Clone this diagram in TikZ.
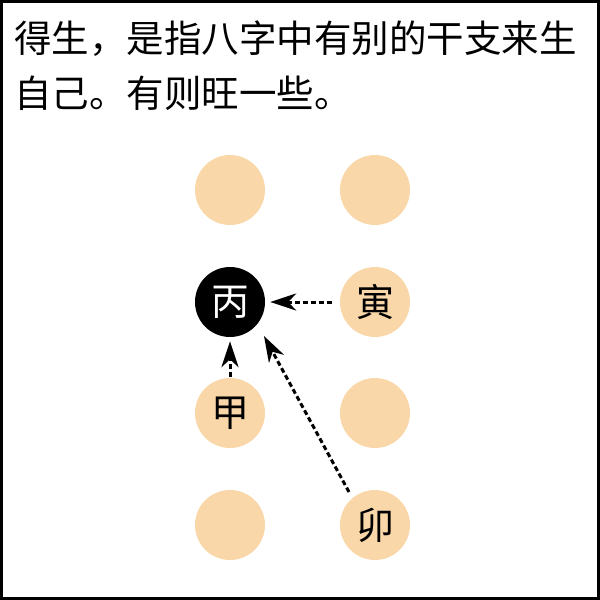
\documentclass[tikz,border=0pt]{standalone}
\usepackage{fontspec}
\setmainfont{Noto Sans CJK SC}
\newfontfamily\cjk{Noto Sans CJK SC}
\usepackage{tikz}
\usetikzlibrary{arrows.meta}
\definecolor{peach}{RGB}{250,215,168}

\begin{document}
\begin{tikzpicture}[x=1pt,y=1pt,
            pillar/.style={circle, fill=peach, minimum size=70pt, inner sep=0pt,
                font=\cjk\fontsize{38}{38}\selectfont},
            dayman/.style={pillar, fill=black, text=white},
            sheng/.style={-{Stealth[length=26pt,width=17pt,inset=8pt]},
                line width=3pt, dash pattern=on 5pt off 3pt}]
            \useasboundingbox (0,0) rectangle (600,-600);
            \draw[line width=3pt] (1.5,-1.5) rectangle (598.5,-598.5);
            % caption
            \node[anchor=base west, inner sep=0pt, font=\fontsize{37.5}{37.5}\selectfont] (line1) at (14,-52) {得生，是指八字中有别的干支来生};
            \node[anchor=base west, inner sep=0pt, font=\fontsize{37.5}{37.5}\selectfont] (line2) at (14,-107) {自己。有则旺一些。};
            % the eight circles
            \node[pillar] (topL) at (230,-190) {};
            \node[pillar] (topR) at (375,-190) {};
            \node[dayman] (bing) at (230,-302) {丙};
            \node[pillar] (yin) at (375,-302) {寅};
            \node[pillar] (jia) at (230,-413) {甲};
            \node[pillar] (midR) at (375,-413) {};
            \node[pillar] (lowL) at (230,-525) {};
            \node[pillar] (mao) at (375,-525) {卯};
            % who gives birth to bing
            \draw[sheng, shorten <=8pt, shorten >=5pt] (yin) -- (bing);
            \draw[sheng, shorten <=1pt, shorten >=4pt] (jia) -- (bing);
            \draw[sheng] ([shift={(-26,33)}]mao.center) -- ([shift={(34,-34)}]bing.center);
        \end{tikzpicture}
\end{document}
